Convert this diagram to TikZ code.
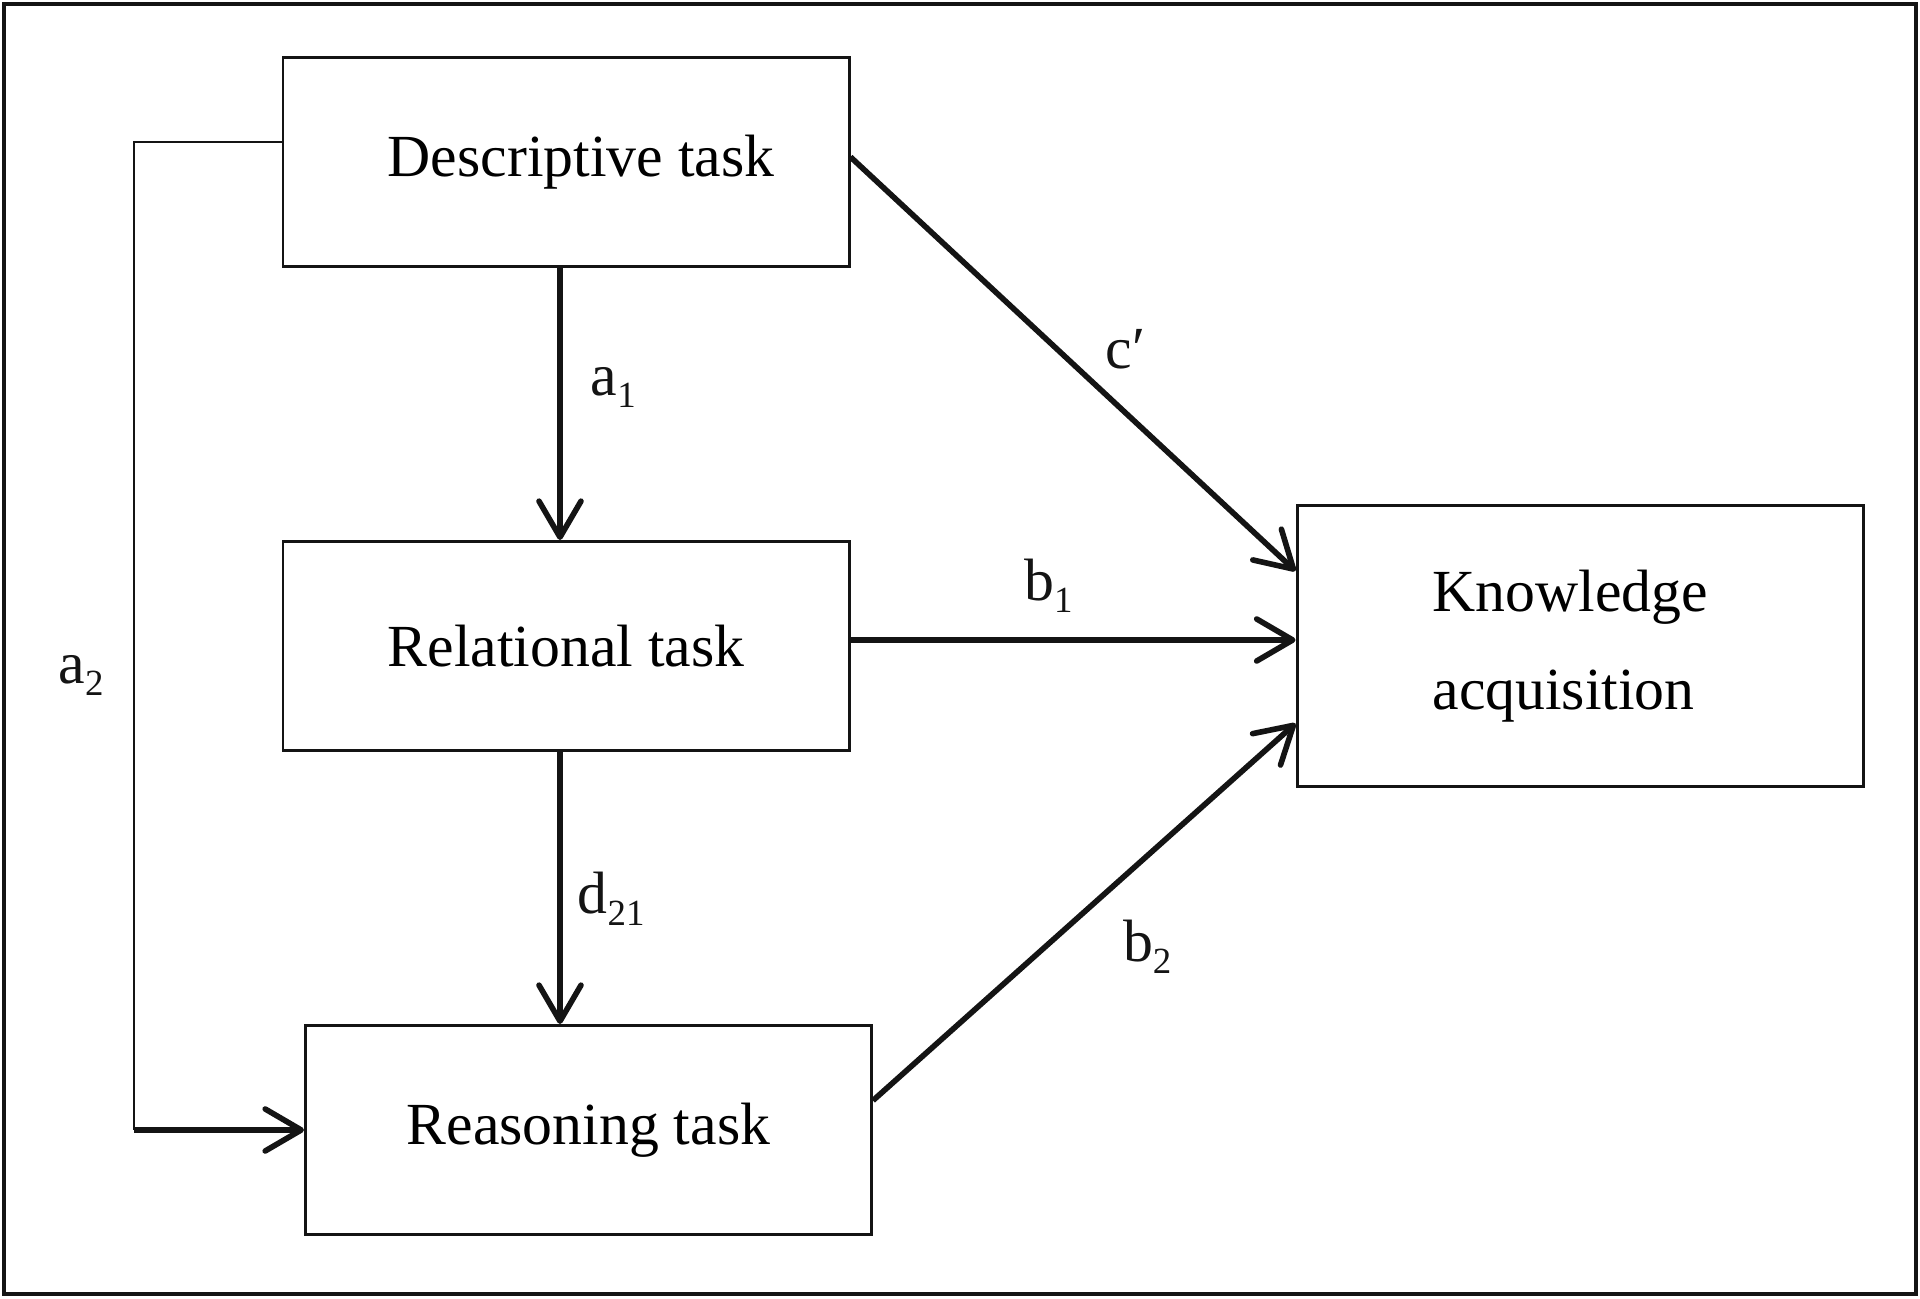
\documentclass[tikz,border=0pt]{standalone}
\usepackage{fontspec}
\setmainfont{Liberation Serif}
\usepackage{tikz}
\usetikzlibrary{arrows.meta,positioning}
\definecolor{inkblack}{HTML}{141414}
\newcommand{\lowidx}[1]{\raisebox{-0.2em}{\fontsize{10.5}{12}\selectfont #1}}
\tikzset{
  taskbox/.style={
    rectangle, draw=inkblack, line width=0.85pt, fill=white,
    minimum width=5.66cm, minimum height=2.09cm, align=center,
    inner sep=0pt, font=\fontsize{17}{28}\selectfont
  },
  taskarrow/.style={-{Straight Barb[length=3.6mm,width=4.2mm,line cap=round,line join=round]}, line width=1.6pt, color=inkblack},
  plainline/.style={line width=0.85pt, color=inkblack},
  pathlabel/.style={inner sep=0pt, font=\fontsize{17}{20}\selectfont},
}
\begin{document}
\begin{tikzpicture}[node distance=2.72cm]
  \useasboundingbox (0,0) rectangle (19.2,12.98);
  \draw[line width=1.4pt, color=inkblack] (0.04,0.04) rectangle (19.16,12.94);
  \node[taskbox] (desc) at (5.66,11.36) {\hspace*{0.3cm}Descriptive task};
  \node[taskbox, below=of desc] (rel) {Relational task};
  \node[taskbox, below=2.72cm of rel, xshift=0.225cm] (reas) {Reasoning task};
  \node[taskbox, right=4.45cm of rel, minimum height=2.81cm, text width=2.95cm, align=left] (know) {Knowledge\\acquisition};
  \coordinate (a2top) at ([yshift=0.2cm]desc.west);
  \coordinate (a2turn) at (1.34,0 |- reas.west);
  \draw[plainline] (a2top) -| node[pathlabel, pos=0.77, left=0.29cm] (la2) {a\lowidx{2}} (a2turn);
  \draw[taskarrow] (a2turn) -- (reas.west);
  \draw[taskarrow] ([xshift=-0.06cm]desc.south) -- node[pathlabel, pos=0.44, right=0.28cm] (la1) {a\lowidx{1}} ([xshift=-0.06cm]desc.south |- rel.north);
  \draw[taskarrow] ([xshift=-0.06cm]rel.south) -- node[pathlabel, pos=0.54, right=0.15cm] (ld21) {d\lowidx{21}} ([xshift=-0.06cm]rel.south |- reas.north);
  \draw[taskarrow] ([yshift=0.05cm]desc.east) -- node[pathlabel, pos=0.5, anchor=west, xshift=0.3cm, yshift=0.15cm] (lc) {c′} ([yshift=0.75cm]know.west);
  \draw[taskarrow] ([yshift=0.06cm]rel.east) -- node[pathlabel, pos=0.445, above=0.25cm] (lb1) {b\lowidx{1}} ([yshift=0.06cm]know.west);
  \draw[taskarrow] ([yshift=0.295cm]reas.east) -- node[pathlabel, pos=0.5, anchor=west, xshift=0.36cm, yshift=-0.345cm] (lb2) {b\lowidx{2}} ([yshift=-0.775cm]know.west);
\end{tikzpicture}
\end{document}
